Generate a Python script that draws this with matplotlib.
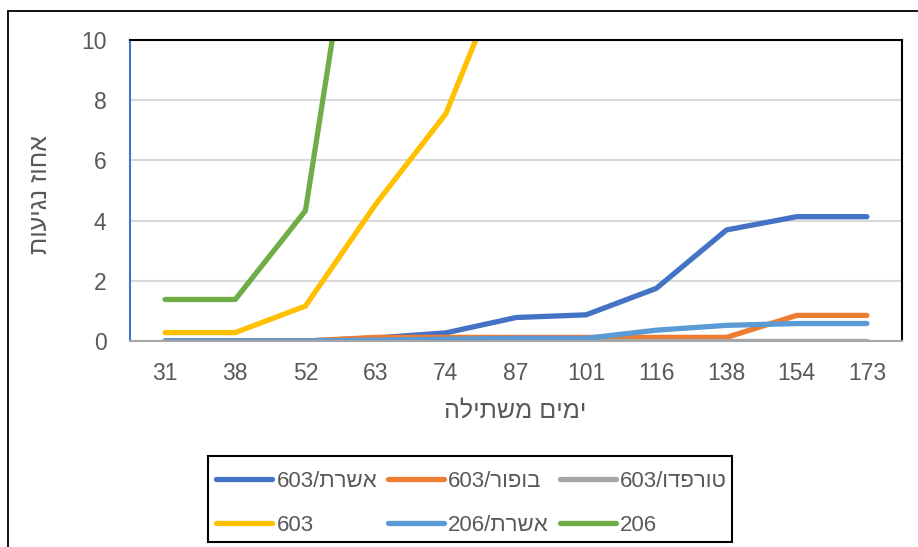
import numpy as np
import matplotlib
matplotlib.use("Agg")
import matplotlib.pyplot as plt
from matplotlib.patches import Rectangle

plt.rcParams['font.family'] = ['Liberation Sans', 'DejaVu Sans']


def rtl(s):
    # matplotlib has no bidi support, so Hebrew runs are reversed by hand
    return s[::-1]


days = ['31', '38', '52', '63', '74', '87', '101', '116', '138', '154', '173']

# series values (percent infection), NaN where the line has left the chart
asheret_603 = [0, 0, 0, 0.1, 0.27, 0.78, 0.87, 1.75, 3.69, 4.13, 4.13]
bufor_603 = [0, 0, 0, 0.12, 0.12, 0.12, 0.12, 0.12, 0.12, 0.85, 0.85]
torpedo_603 = [0, 0, 0, 0, 0, 0, 0, 0, 0, 0, 0]
only_603 = [0.28, 0.28, 1.16, 4.54, 7.55, 13.3, np.nan, np.nan, np.nan, np.nan, np.nan]
asheret_206 = [0, 0, 0, 0.03, 0.06, 0.09, 0.09, 0.36, 0.52, 0.58, 0.58]
only_206 = [1.38, 1.38, 4.33, 19.2, np.nan, np.nan, np.nan, np.nan, np.nan, np.nan, np.nan]

labels = ['603/' + rtl('אשרת'), '603/' + rtl('בופור'), '603/' + rtl('טורפדו'),
          '603', '206/' + rtl('אשרת'), '206']
series = [asheret_603, bufor_603, torpedo_603, only_603, asheret_206, only_206]
colors = ['#4472C4', '#ED7D31', '#A5A5A5', '#FFC000', '#5B9BD5', '#70AD47']

fig = plt.figure(figsize=(9.18, 5.47), dpi=100)
ax = fig.add_axes([130 / 918, 1 - 341 / 547, 772 / 918, 301 / 547])

x = np.arange(len(days))
lines = []
for vals, lab, col in zip(series, labels, colors):
    ln, = ax.plot(x, vals, color=col, lw=3.8, label=lab,
                  solid_capstyle='round', solid_joinstyle='round')
    lines.append(ln)

ax.set_xlim(-0.5, len(days) - 0.5)
ax.set_ylim(0, 10)
ax.set_yticks(range(0, 11, 2))
ax.set_xticks(x)
ax.set_xticklabels(days)
ax.tick_params(axis='both', length=0, labelsize=16.5, colors='#595959')
ax.tick_params(axis='y', pad=17)
ax.tick_params(axis='x', pad=15)
ax.yaxis.grid(True, color='#D9D9D9', lw=1.5)
ax.set_axisbelow(True)

ax.spines['left'].set_color('#4472C4')
ax.spines['bottom'].set_color('#A6A6A6')
ax.spines['top'].set_color('black')
ax.spines['right'].set_color('black')
for s in ax.spines.values():
    s.set_linewidth(1.5)

fig.text(40 / 918, 1 - 194 / 547, rtl('אחוז נגיעות'), rotation=90,
         ha='center', va='center', fontsize=18, color='#595959')
fig.text(515 / 918, 1 - 410 / 547, rtl('ימים משתילה'),
         ha='center', va='center', fontsize=18, color='#595959')

# legend is filled row by row in the original
order = [0, 3, 1, 4, 2, 5]
leg = fig.legend([lines[i] for i in order], [labels[i] for i in order],
                 ncol=3, loc='upper left',
                 bbox_to_anchor=(208 / 918, 1 - 462.5 / 547),
                 fontsize=16, frameon=False,
                 handlelength=2.5, handletextpad=0.2, columnspacing=0.5,
                 labelspacing=1.02, borderpad=0.38, borderaxespad=0)
for t in leg.get_texts():
    t.set_color('#595959')

# legend box (the last label runs past it in the original)
fig.patches.append(Rectangle((208 / 918, 1 - 541.7 / 547), 524 / 918, 86.2 / 547,
                             transform=fig.transFigure, fill=False,
                             ec='black', lw=1.5, zorder=5))

# outer chart border
fig.patches.append(Rectangle((8 / 918, -0.1), 2, 1 - 11 / 547 + 0.1,
                             transform=fig.transFigure, fill=False,
                             ec='black', lw=1.3))

fig.savefig('out.png', dpi=100)
